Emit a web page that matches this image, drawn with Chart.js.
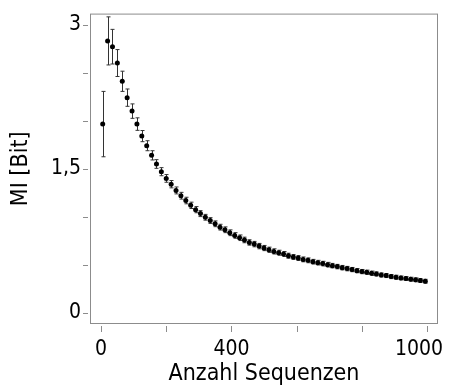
<!DOCTYPE html>
<html>
<head>
<meta charset="utf-8">
<script src="https://cdn.jsdelivr.net/npm/chart.js@4.4.1/dist/chart.umd.min.js"></script>
<style>
  html, body { margin: 0; padding: 0; background: #fff; }
  #wrap { width: 449px; height: 385px; position: relative; }
</style>
</head>
<body>
<div id="wrap"><canvas id="chart"></canvas></div>
<script>
// Anzahl Sequenzen
const sequences = [5, 20, 35, 50, 65, 80, 95, 110, 125, 140, 155, 170, 185, 200, 215, 230, 245, 260, 275, 290,
  305, 320, 335, 350, 365, 380, 395, 410, 425, 440, 455, 470, 485, 500, 515, 530, 545, 560, 575, 590,
  605, 620, 635, 650, 665, 680, 695, 710, 725, 740, 755, 770, 785, 800, 815, 830, 845, 860, 875, 890,
  905, 920, 935, 950, 965, 980, 995];
// MI [Bit]
const miValues = [1.965, 2.83, 2.77, 2.60, 2.41, 2.24, 2.10, 1.965, 1.84, 1.74, 1.64, 1.55, 1.47, 1.40, 1.34,
  1.275, 1.22, 1.17, 1.12, 1.075, 1.034, 0.996, 0.962, 0.928, 0.893, 0.866, 0.835, 0.807, 0.783, 0.76,
  0.734, 0.717, 0.696, 0.676, 0.658, 0.641, 0.627, 0.614, 0.596, 0.583, 0.572, 0.558, 0.548, 0.534, 0.524,
  0.514, 0.503, 0.493, 0.483, 0.472, 0.462, 0.452, 0.441, 0.431, 0.424, 0.414, 0.407, 0.396, 0.390, 0.379,
  0.372, 0.365, 0.359, 0.352, 0.345, 0.338, 0.331];
// half length of the error bars
const miErrors = [0.34, 0.25, 0.18, 0.14, 0.105, 0.09, 0.075, 0.065, 0.058, 0.052, 0.048, 0.045, 0.042, 0.04, 0.038,
  0.036, 0.035, 0.034, 0.033, 0.032, 0.031, 0.03, 0.03, 0.03, 0.03, 0.03, 0.03, 0.029, 0.029, 0.029,
  0.028, 0.028, 0.028, 0.027, 0.027, 0.027, 0.026, 0.026, 0.026, 0.025, 0.025, 0.025, 0.025, 0.024, 0.024,
  0.024, 0.024, 0.023, 0.023, 0.023, 0.023, 0.022, 0.022, 0.022, 0.022, 0.022, 0.021, 0.021, 0.021, 0.021,
  0.021, 0.02, 0.02, 0.02, 0.02, 0.02, 0.02];

const xTicks = [0, 200, 400, 600, 800, 1000];
const xTickLabels = ['0', '', '400', '', '', '1000'];
const yTicks = [0, 0.5, 1, 1.5, 2, 2.5, 3];
const yTickLabels = ['0', '', '', '1,5', '', '', '3'];

const FONT = "'DejaVu Sans Condensed', 'DejaVu Sans', sans-serif";
const BOX = '#8c8c8c';

// box, outside tick marks, x tick labels and error bars
const framePlugin = {
  id: 'frame',
  beforeDatasetsDraw(chart) {
    const ctx = chart.ctx;
    const xs = chart.scales.x, ys = chart.scales.y;
    ctx.save();
    ctx.strokeStyle = '#333';
    ctx.lineWidth = 1;
    sequences.forEach((s, i) => {
      const px = Math.round(xs.getPixelForValue(s)) + 0.5;
      const top = ys.getPixelForValue(miValues[i] + miErrors[i]);
      const bot = ys.getPixelForValue(miValues[i] - miErrors[i]);
      ctx.beginPath();
      ctx.moveTo(px, top); ctx.lineTo(px, bot);
      ctx.moveTo(px - 2, top); ctx.lineTo(px + 2, top);
      ctx.moveTo(px - 2, bot); ctx.lineTo(px + 2, bot);
      ctx.stroke();
    });
    ctx.restore();
  },
  afterDraw(chart) {
    const ctx = chart.ctx;
    const a = chart.chartArea;
    const xs = chart.scales.x, ys = chart.scales.y;
    ctx.save();
    ctx.strokeStyle = BOX;
    ctx.lineWidth = 1;
    ctx.strokeRect(a.left + 0.5, a.top + 0.5, a.right - a.left - 1, a.bottom - a.top - 1);
    ctx.beginPath();
    yTicks.forEach(v => {
      const py = Math.round(ys.getPixelForValue(v)) + 0.5;
      ctx.moveTo(a.left - 7, py); ctx.lineTo(a.left - 2, py);
    });
    xTicks.forEach(v => {
      const px = Math.round(xs.getPixelForValue(v)) + 0.5;
      ctx.moveTo(px, a.bottom + 2); ctx.lineTo(px, a.bottom + 8);
    });
    ctx.stroke();
    ctx.fillStyle = '#000';
    ctx.font = '21px ' + FONT;
    ctx.textBaseline = 'top';
    xTicks.forEach((v, i) => {
      const t = xTickLabels[i];
      if (!t) return;
      const w = ctx.measureText(t).width;
      let px = xs.getPixelForValue(v) - w / 2;
      px = Math.min(px, chart.width - w - 6);
      ctx.fillText(t, px, a.bottom + 15);
    });
    ctx.restore();
  }
};

const ctx = document.getElementById('chart');
new Chart(ctx, {
  type: 'scatter',
  data: {
    datasets: [{
      label: 'MI',
      data: sequences.map((s, i) => ({ x: s, y: miValues[i] })),
      backgroundColor: '#000',
      borderColor: '#000',
      pointRadius: 2.5,
      pointBorderWidth: 0
    }]
  },
  options: {
    responsive: true,
    maintainAspectRatio: false,
    animation: false,
    layout: { autoPadding: false, padding: { left: 0, right: 11, top: 0, bottom: 0 } },
    plugins: { legend: { display: false }, tooltip: { enabled: false } },
    scales: {
      x: {
        type: 'linear',
        min: -34,
        max: 1034,
        afterBuildTicks: s => { s.ticks = xTicks.map(v => ({ value: v })); },
        afterFit: s => { s.height = 61; },
        grid: { display: false },
        border: { display: false },
        ticks: { display: false },
        title: {
          display: true,
          text: 'Anzahl Sequenzen',
          color: '#000',
          font: { family: FONT, size: 23 },
          padding: { top: 0, bottom: -3 }
        }
      },
      y: {
        type: 'linear',
        min: -0.114,
        max: 3.114,
        afterBuildTicks: s => { s.ticks = yTicks.map(v => ({ value: v })); },
        afterFit: s => { s.width = 90; },
        grid: { display: false },
        border: { display: false },
        ticks: {
          color: '#000',
          padding: 1,
          font: { family: FONT, size: 21 },
          callback: (v, i) => yTickLabels[i]
        },
        title: {
          display: true,
          text: 'MI [Bit]',
          color: '#000',
          font: { family: FONT, size: 23 },
          padding: { top: 7, bottom: 0 }
        }
      }
    }
  },
  plugins: [framePlugin]
});
</script>
</body>
</html>
